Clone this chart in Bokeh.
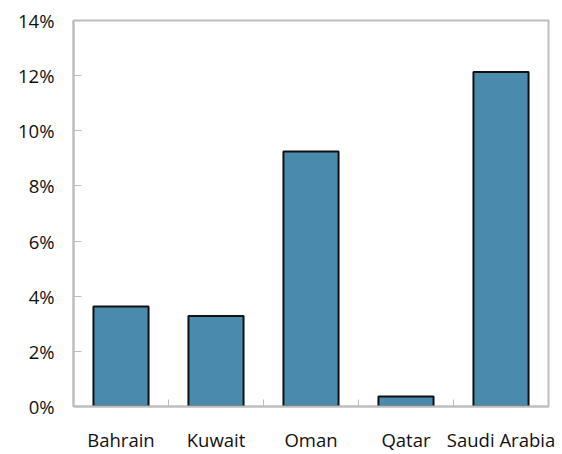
from bokeh.plotting import figure
from bokeh.models import (FactorRange, Range1d, FixedTicker, LinearAxis, CategoricalAxis,
                          PrintfTickFormatter, ColumnDataSource)
from bokeh.embed import file_html
from bokeh.resources import INLINE

countries = ["Bahrain", "Kuwait", "Oman", "Qatar", "Saudi Arabia"]
values = [3.63, 3.28, 9.25, 0.36, 12.13]
y_ticks = [0, 2, 4, 6, 8, 10, 12, 14]

FONT = "Open Sans"
FSIZE = "18.5px"
GRAY = "#bdbdbd"

p = figure(width=556, height=454, x_range=FactorRange(*countries, range_padding=0),
           y_range=Range1d(0, 14), output_backend="svg", toolbar_location=None,
           x_axis_location=None, y_axis_location=None,
           min_border_left=73, min_border_right=8, min_border_top=20, min_border_bottom=10)

src = ColumnDataSource(dict(x=countries, top=values))
p.vbar(x="x", top="top", width=0.58, source=src, fill_color="#4A8BAD",
       line_color="#111111", line_width=2)

p.xgrid.visible = False
p.ygrid.visible = False
p.outline_line_color = GRAY
p.outline_line_width = 2
p.background_fill_color = "white"
p.border_fill_color = "white"

# y axis
ya = LinearAxis(ticker=FixedTicker(ticks=y_ticks), formatter=PrintfTickFormatter(format="%d%%"))
ya.axis_line_color = GRAY
ya.axis_line_width = 2
ya.major_tick_in = 8
ya.major_tick_out = 0
ya.major_tick_line_color = GRAY
ya.major_tick_line_width = 1
ya.minor_tick_line_color = None
ya.major_label_standoff = 19
ya.major_label_text_font = FONT
ya.major_label_text_font_size = FSIZE
ya.major_label_text_color = "#111111"
p.add_layout(ya, "left")

# boundary tick marks on x axis
xt = LinearAxis(ticker=FixedTicker(ticks=[1, 2, 3, 4]))
xt.axis_line_color = GRAY
xt.axis_line_width = 2
xt.major_tick_in = 7
xt.major_tick_out = 0
xt.major_tick_line_color = GRAY
xt.minor_tick_line_color = None
xt.major_label_text_font_size = "0px"
xt.major_label_text_color = None
xt.major_label_standoff = 0
p.add_layout(xt, "below")

xa = CategoricalAxis()
xa.axis_line_color = None
xa.major_tick_line_color = None
xa.minor_tick_line_color = None
xa.major_label_standoff = 14
xa.major_label_text_font = FONT
xa.major_label_text_font_size = FSIZE
xa.major_label_text_color = "#111111"
p.add_layout(xa, "below")

open("out.html", "w").write(file_html(p, INLINE))
